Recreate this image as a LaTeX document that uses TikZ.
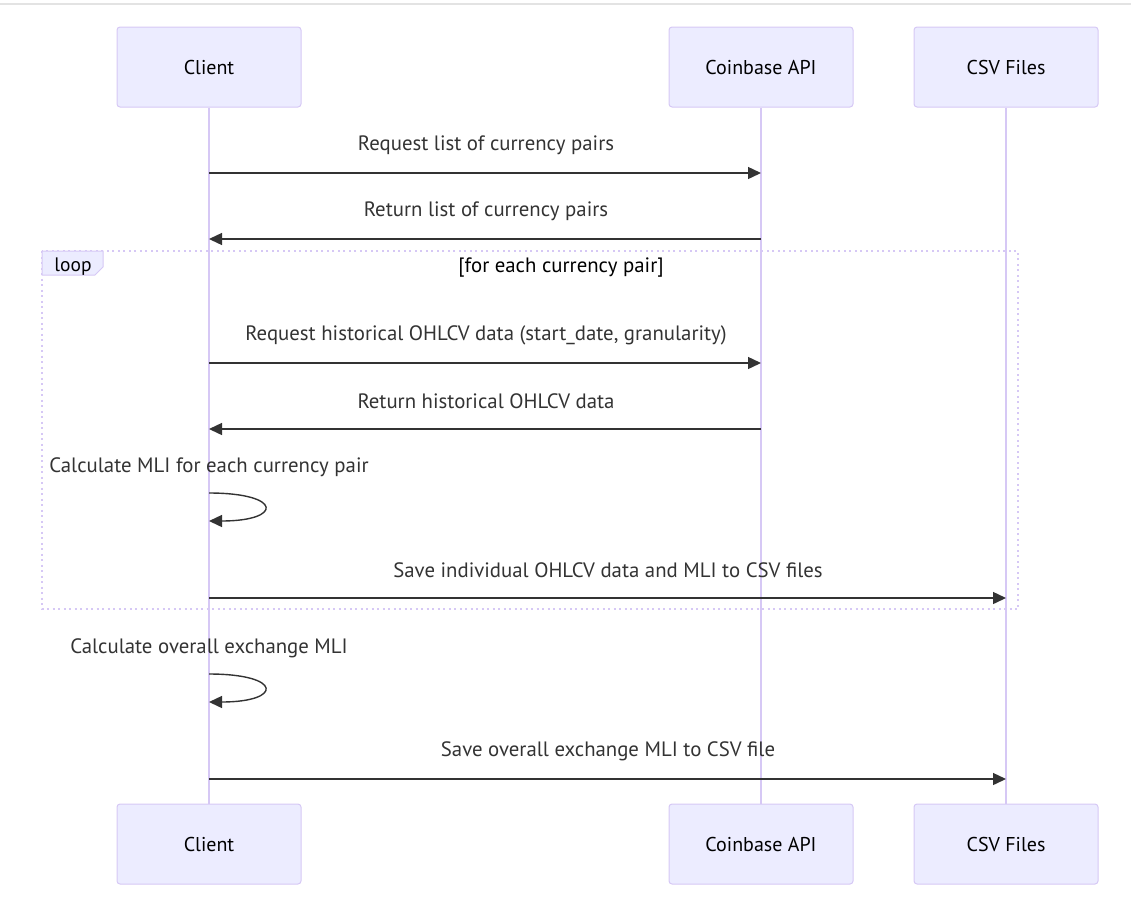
\documentclass[tikz,border=0pt]{standalone}
\usepackage{fontspec}
\setmainfont{PT Sans}
\usetikzlibrary{arrows.meta,positioning}
\definecolor{actfill}{HTML}{ECECFF}
\definecolor{actline}{HTML}{D6C8F5}
\definecolor{msgcol}{HTML}{333333}
\definecolor{rulecol}{HTML}{E3E3E3}

\tikzset{
  actor/.style={draw=actline, fill=actfill, line width=1pt, rounded corners=3pt,
    minimum width=184pt, minimum height=80pt, font=\fontsize{20}{24}\selectfont},
  life/.style={draw=actline, line width=2pt},
  msg/.style={draw=msgcol, line width=1.4pt, -{Triangle[length=13pt,width=12pt]}},
  msgtext/.style={text=msgcol, font=\fontsize{20.8}{24}\selectfont},
  loopbox/.style={draw=actline, line width=2pt, dash pattern=on 2pt off 3.5pt}
}

\begin{document}
\begin{tikzpicture}[x=1pt, y=-1pt]
    \useasboundingbox (0,0) rectangle (1131,897);
    \draw[rulecol, line width=1.5pt] (0,4) -- (1131,4);

    % actors
    \node[actor] (cltop) at (209,67) {Client};
    \node[actor] (apitop) at (761,67) {Coinbase API};
    \node[actor] (csvtop) at (1006,67) {CSV Files};
    \node[actor] (cltbot) at (209,844) {Client};
    \node[actor] (apibot) at (761,844) {Coinbase API};
    \node[actor] (csvbot) at (1006,844) {CSV Files};

    % loop frame
    \draw[loopbox] (42,251) rectangle (1018,609);
    \draw[draw=actline, fill=actfill, line width=1pt]
        (42,251) -- (103,251) -- (103,267) -- (95,275) -- (42,275) -- cycle;
    \node[font=\fontsize{19.5}{22}\selectfont] (looptag) at (73,267) {loop};
    \node[font=\fontsize{20.8}{24}\selectfont] (loopcond) at (561,268) {[for each currency pair]};

    % lifelines
    \draw[life] (cltop) -- (cltbot);
    \draw[life] (apitop) -- (apibot);
    \draw[life] (csvtop) -- (csvbot);

    % messages
    \node[msgtext] (t1) at (486,145) {Request list of currency pairs};
    \draw[msg] (cltop |- 0,173) -- (apitop |- 0,173);
    \node[msgtext] (t2) at (486,211) {Return list of currency pairs};
    \draw[msg] (apitop |- 0,239) -- (cltop |- 0,239);
    \node[msgtext] (t3) at (486,335) {Request historical OHLCV data (start\_date, granularity)};
    \draw[msg] (cltop |- 0,363) -- (apitop |- 0,363);
    \node[msgtext] (t4) at (486,401) {Return historical OHLCV data};
    \draw[msg] (apitop |- 0,429) -- (cltop |- 0,429);
    \node[msgtext] (t5) at (209,467) {Calculate MLI for each currency pair};
    \draw[msg] (cltop |- 0,493) .. controls (283,493) and (283,521) .. (cltop |- 0,521);
    \node[msgtext] (t6) at (608,570) {Save individual OHLCV data and MLI to CSV files};
    \draw[msg] (cltop |- 0,598) -- (csvtop |- 0,598);
    \node[msgtext] (t7) at (209,648) {Calculate overall exchange MLI};
    \draw[msg] (cltop |- 0,674) .. controls (283,674) and (283,702) .. (cltop |- 0,702);
    \node[msgtext] (t8) at (608,751) {Save overall exchange MLI to CSV file};
    \draw[msg] (cltop |- 0,779) -- (csvtop |- 0,779);
\end{tikzpicture}
\end{document}
